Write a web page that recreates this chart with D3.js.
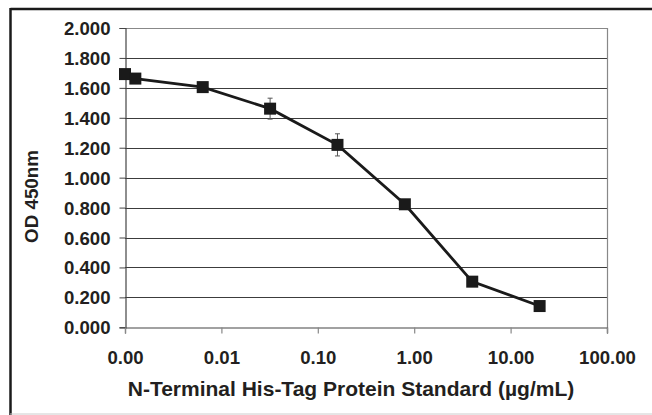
<!DOCTYPE html>
<html>
<head>
<meta charset="utf-8">
<script src="https://cdn.jsdelivr.net/npm/d3@7"></script>
<style>
  body { margin: 0; background: #fff; }
  text { font-family: Arial, "Liberation Sans", sans-serif; font-weight: bold; fill: #231f20; }
</style>
</head>
<body>
<div id="chart"></div>
<script>
// concentrations (ug/mL) and OD readings
const conc = [0.001, 0.00128, 0.0064, 0.032, 0.16, 0.8, 4, 20];
const od = [1.692, 1.662, 1.605, 1.461, 1.219, 0.822, 0.305, 0.142];
const err = [0.015, 0.015, 0.02, 0.07, 0.074, 0.015, 0.015, 0.01];
const xTicks = [0.001, 0.01, 0.1, 1, 10, 100];
const yTicks = [0, 0.2, 0.4, 0.6, 0.8, 1.0, 1.2, 1.4, 1.6, 1.8, 2.0];

const width = 652;
const height = 415;
const plotL = 125, plotR = 607, plotT = 28, plotB = 327.3;

const svg = d3.select("#chart")
    .append("svg")
    .attr("width", width)
    .attr("height", height);

const x = d3.scaleLog().domain([0.001, 100]).range([plotL, plotR]);
const y = d3.scaleLinear().domain([0, 2]).range([plotB, plotT]);

// outer frame
svg.append("line").attr("x1", 10.5).attr("x2", width).attr("y1", 9).attr("y2", 9)
    .attr("stroke", "#1a1a1a").attr("stroke-width", 2.5);
svg.append("line").attr("x1", 10.5).attr("x2", 10.5).attr("y1", 8).attr("y2", height)
    .attr("stroke", "#1a1a1a").attr("stroke-width", 2.5);
svg.append("line").attr("x1", 10).attr("x2", width).attr("y1", 414).attr("y2", 414)
    .attr("stroke", "#ccc").attr("stroke-width", 1);

// gridlines
svg.append("g")
    .selectAll("line")
    .data(yTicks.slice(1))
    .join("line")
    .attr("x1", plotL).attr("x2", plotR)
    .attr("y1", d => Math.round(y(d)) + 0.5)
    .attr("y2", d => Math.round(y(d)) + 0.5)
    .attr("stroke", d => d === 2 ? "#888" : "#3c3c3c")
    .attr("stroke-width", 1);

// right border of plot
svg.append("line").attr("x1", plotR + 0.5).attr("x2", plotR + 0.5)
    .attr("y1", plotT).attr("y2", plotB + 6)
    .attr("stroke", "#888").attr("stroke-width", 1.2);

// y axis
const yAxis = svg.append("g")
    .attr("transform", `translate(${plotL + 0.5},0)`)
    .call(d3.axisLeft(y).tickValues(yTicks).tickFormat(d3.format(".3f")).tickSize(6).tickPadding(9));
yAxis.select(".domain").attr("stroke", "#444").attr("stroke-width", 1.2);
yAxis.selectAll(".tick line").attr("stroke", "#444");
yAxis.selectAll(".tick text").attr("font-size", 18.6).attr("dy", "0.35em")
    .style("font-family", "Arial, 'Liberation Sans', sans-serif").attr("fill", "#231f20");

// x axis
const xAxis = svg.append("g")
    .attr("transform", `translate(0,${Math.round(plotB) + 0.5})`)
    .call(d3.axisBottom(x).tickValues(xTicks).tickFormat(d3.format(".2f")).tickSize(6).tickPadding(17));
xAxis.select(".domain").attr("stroke", "#444").attr("stroke-width", 1.2);
xAxis.selectAll(".tick line").attr("stroke", "#888").attr("stroke-width", 1.2);
xAxis.selectAll(".tick text").attr("font-size", 18.6)
    .style("font-family", "Arial, 'Liberation Sans', sans-serif").attr("fill", "#231f20");

// axis titles
svg.append("text")
    .attr("x", 351).attr("y", 396)
    .attr("text-anchor", "middle")
    .attr("font-size", 21)
    .text("N-Terminal His-Tag Protein Standard (µg/mL)");

svg.append("text")
    .attr("transform", "translate(38,196.5) rotate(-90)")
    .attr("text-anchor", "middle")
    .attr("font-size", 18.8)
    .text("OD 450nm");

const data = conc.map((c, i) => ({ c: c, v: od[i], e: err[i] }));

// error bars
const eb = svg.append("g").attr("stroke", "#555").attr("stroke-width", 1);
eb.selectAll(".v").data(data).join("line")
    .attr("x1", d => x(d.c)).attr("x2", d => x(d.c))
    .attr("y1", d => y(d.v + d.e)).attr("y2", d => y(d.v - d.e));
eb.selectAll(".t").data(data).join("line")
    .attr("x1", d => x(d.c) - 2.5).attr("x2", d => x(d.c) + 2.5)
    .attr("y1", d => y(d.v + d.e)).attr("y2", d => y(d.v + d.e));
eb.selectAll(".b").data(data).join("line")
    .attr("x1", d => x(d.c) - 2.5).attr("x2", d => x(d.c) + 2.5)
    .attr("y1", d => y(d.v - d.e)).attr("y2", d => y(d.v - d.e));

// line
svg.append("path")
    .datum(data)
    .attr("fill", "none")
    .attr("stroke", "#1a1a1a")
    .attr("stroke-width", 2.8)
    .attr("d", d3.line().x(d => x(d.c)).y(d => y(d.v)));

// markers
svg.append("g")
    .selectAll("rect")
    .data(data)
    .join("rect")
    .attr("x", d => x(d.c) - 6)
    .attr("y", d => y(d.v) - 6)
    .attr("width", 12)
    .attr("height", 12)
    .attr("fill", "#1a1a1a");
</script>
</body>
</html>
